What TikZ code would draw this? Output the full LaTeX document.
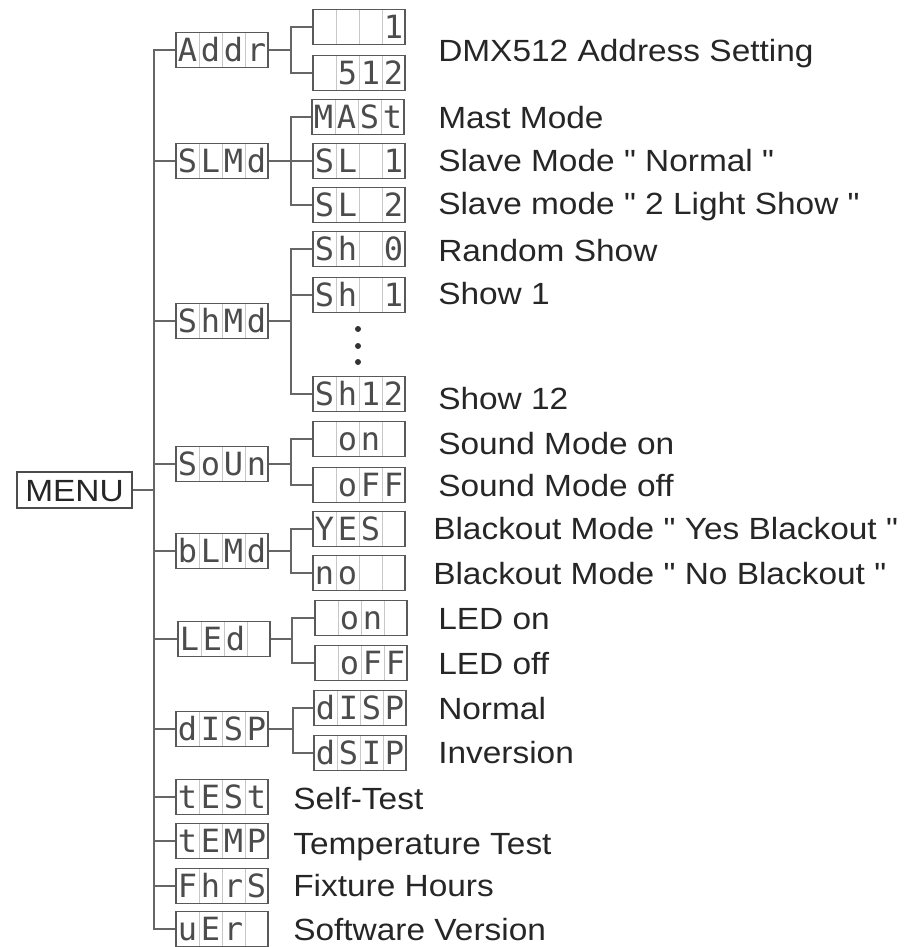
\documentclass[tikz,border=0pt]{standalone}
\usepackage{fontspec}
\setmainfont{Liberation Sans}[FakeStretch=1.09, Ligatures=TeXOff]
\newfontfamily\lcdfont{DejaVu Sans Mono}
\usetikzlibrary{positioning,calc}

% four-cell display text
\newcommand\lcd[4]{\lcdfont\fontsize{24pt}{24pt}\selectfont
  \makebox[17.25pt]{#1}\makebox[17.25pt]{#2}\makebox[17.25pt]{#3}\makebox[17.25pt]{#4}}

\tikzset{
  lcdbox/.style={draw=black!65, line width=1.1pt, inner sep=0pt,
    minimum width=69pt, minimum height=26pt, text height=17.5pt, text depth=0pt,
    text=black!70,
    path picture={\foreach \k in {1,2,3}{
      \draw[black!22, line width=0.7pt]
        ($(path picture bounding box.north west)!{\k/4}!(path picture bounding box.north east)$) --
        ($(path picture bounding box.south west)!{\k/4}!(path picture bounding box.south east)$);}}},
  menubox/.style={draw=black!70, line width=1.1pt, inner sep=0pt,
    minimum width=86pt, minimum height=27pt, text height=16.5pt, text depth=0pt,
    text=black!85, font=\fontsize{23pt}{27pt}\selectfont},
  desc/.style={anchor=west, inner sep=0pt, text height=16.5pt, text depth=0pt,
    text=black!85, font=\fontsize{23pt}{27pt}\selectfont},
  link/.style={draw=black!60, line width=1.2pt},
  dot/.style={circle, fill=black!80, inner sep=0pt, minimum size=4.5pt}
}

\begin{document}
\begin{tikzpicture}[x=0.75pt, y=-0.75pt]
\useasboundingbox (0,0) rectangle (917,947);

% Root
\node[menubox] (menu) at (74.5,490) {MENU};
\coordinate (trunk) at (154,490);

% First level
\node[lcdbox] (addr) at (222,50)  {\lcd{A}{d}{d}{r}};
\node[lcdbox] (slmd) at (222,161) {\lcd{S}{L}{M}{d}};
\node[lcdbox] (shmd) at (222,321) {\lcd{S}{h}{M}{d}};
\node[lcdbox] (soun) at (222,464) {\lcd{S}{o}{U}{n}};
\node[lcdbox] (blmd) at (222,551) {\lcd{b}{L}{M}{d}};
\node[lcdbox] (led)  at (224,639) {\lcd{L}{E}{d}{}};
\node[lcdbox] (disp) at (222,729) {\lcd{d}{I}{S}{P}};
\node[lcdbox] (test) at (222,797) {\lcd{t}{E}{S}{t}};
\node[lcdbox] (temp) at (222,841) {\lcd{t}{E}{M}{P}};
\node[lcdbox] (fhrs) at (222,886) {\lcd{F}{h}{r}{S}};
\node[lcdbox] (ver)  at (222,929) {\lcd{u}{E}{r}{}};

% Second level
\node[lcdbox] (addr-lo) at (359,27)  {\lcd{}{}{}{1}};
\node[lcdbox] (addr-hi) at (359,73)  {\lcd{}{5}{1}{2}};
\node[lcdbox] (mast)    at (358,117) {\lcd{M}{A}{S}{t}};
\node[lcdbox] (sl1)     at (359,161) {\lcd{S}{L}{}{1}};
\node[lcdbox] (sl2)     at (359,205) {\lcd{S}{L}{}{2}};
\node[lcdbox] (sh0)     at (359,249) {\lcd{S}{h}{}{0}};
\node[lcdbox] (sh1)     at (359,295) {\lcd{S}{h}{}{1}};
\node[lcdbox] (sh12)    at (359,394) {\lcd{S}{h}{1}{2}};
\node[lcdbox] (snd-on)  at (359,439) {\lcd{}{o}{n}{}};
\node[lcdbox] (snd-off) at (359,485) {\lcd{}{o}{F}{F}};
\node[lcdbox] (bl-yes)  at (359,529) {\lcd{Y}{E}{S}{}};
\node[lcdbox] (bl-no)   at (359,573) {\lcd{n}{o}{}{}};
\node[lcdbox] (led-on)  at (361,618) {\lcd{}{o}{n}{}};
\node[lcdbox] (led-off) at (361,663) {\lcd{}{o}{F}{F}};
\node[lcdbox] (dsp-n)   at (360,708) {\lcd{d}{I}{S}{P}};
\node[lcdbox] (dsp-i)   at (360,753) {\lcd{d}{S}{I}{P}};
\foreach \y [count=\i] in {329,346,362} \node[dot] (dot\i) at (358,\y) {};

% Trunk
\draw[link] (menu.east) -- (trunk);
\draw[link] (addr.west) -| (trunk) |- (ver.west);
\foreach \n in {slmd,shmd,soun,blmd,led,disp,test,temp,fhrs}
  \draw[link] (\n.west) -- (\n.west -| trunk);

% Branches
\draw[link] (addr.east) -- ++(22,0) coordinate (addr-j);
\draw[link] (addr-lo.west) -| (addr-j) |- (addr-hi.west);
\draw[link] (slmd.east) -- ++(22,0) coordinate (slmd-j) -- (sl1.west);
\draw[link] (mast.west) -| (slmd-j) |- (sl2.west);
\draw[link] (shmd.east) -- ++(22,0) coordinate (shmd-j);
\draw[link] (sh0.west) -| (shmd-j) |- (sh12.west);
\draw[link] (sh1.west) -- (sh1.west -| shmd-j);
\draw[link] (soun.east) -- ++(22,0) coordinate (soun-j);
\draw[link] (snd-on.west) -| (soun-j) |- (snd-off.west);
\draw[link] (blmd.east) -- ++(22,0) coordinate (blmd-j);
\draw[link] (bl-yes.west) -| (blmd-j) |- (bl-no.west);
\draw[link] (led.east) -- ++(21,0) coordinate (led-j);
\draw[link] (led-on.west) -| (led-j) |- (led-off.west);
\draw[link] (disp.east) -- ++(24,0) coordinate (disp-j);
\draw[link] (dsp-n.west) -| (disp-j) |- (dsp-i.west);

% Descriptions
\node[desc] (d-addr) at (438,50)  {DMX512 Address Setting};
\node[desc] (d-mast) at (438,117) {Mast Mode};
\node[desc] (d-sl1)  at (438,160) {Slave Mode " Normal "};
\node[desc] (d-sl2)  at (438,203) {Slave mode " 2 Light Show "};
\node[desc] (d-sh0)  at (438,250) {Random Show};
\node[desc] (d-sh1)  at (438,293) {Show 1};
\node[desc] (d-sh12) at (438,398) {Show 12};
\node[desc] (d-son)  at (438,443) {Sound Mode on};
\node[desc] (d-soff) at (438,485) {Sound Mode off};
\node[desc] (d-byes) at (433,528) {Blackout Mode " Yes Blackout "};
\node[desc] (d-bno)  at (433,573) {Blackout Mode " No Blackout "};
\node[desc] (d-lon)  at (438,618) {LED on};
\node[desc] (d-loff) at (438,663) {LED off};
\node[desc] (d-dn)   at (438,708) {Normal};
\node[desc] (d-di)   at (438,752) {Inversion};
\node[desc] (d-test) at (293,798) {Self-Test};
\node[desc] (d-temp) at (293,843) {Temperature Test};
\node[desc] (d-fhrs) at (293,885) {Fixture Hours};
\node[desc] (d-ver)  at (293,929) {Software Version};
\end{tikzpicture}
\end{document}
